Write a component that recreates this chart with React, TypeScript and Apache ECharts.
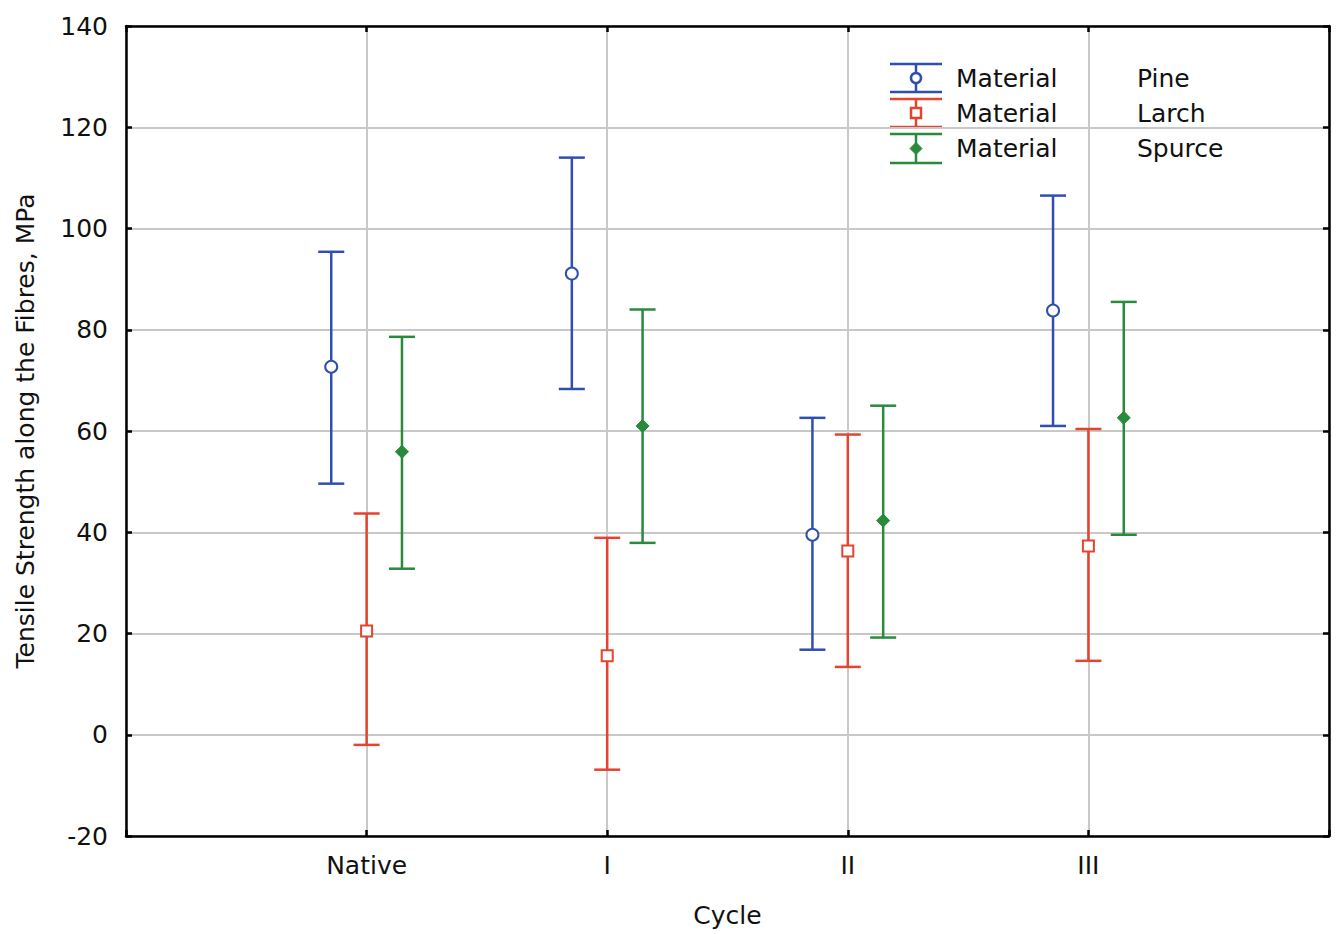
import React, { useEffect, useRef } from "react";
import * as echarts from "echarts";

const categories = ["Native", "I", "II", "III"];
const yTicks = [-20, 0, 20, 40, 60, 80, 100, 120, 140];

const pineMean = [72.7, 91.1, 39.5, 83.8];
const pineLow = [49.6, 68.3, 16.8, 61.0];
const pineHigh = [95.4, 114.0, 62.6, 106.5];

const larchMean = [20.5, 15.6, 36.3, 37.3];
const larchLow = [-2.0, -6.9, 13.4, 14.6];
const larchHigh = [43.7, 38.9, 59.3, 60.4];

const spruceMean = [55.9, 61.0, 42.3, 62.6];
const spruceLow = [32.8, 37.9, 19.2, 39.5];
const spruceHigh = [78.6, 84.0, 65.0, 85.5];

const legendLeft = ["Material", "Material", "Material"];
const legendRight = ["Pine", "Larch", "Spurce"];

const BLUE = "#2f4fae";
const RED = "#e5432f";
const GREEN = "#2a8a3c";
const FONT = "DejaVu Sans, Liberation Sans, Arial, sans-serif";

export default function App() {
  const ref = useRef<HTMLDivElement>(null);

  useEffect(() => {
    if (!ref.current) return;
    const chart = echarts.init(ref.current, undefined, { renderer: "svg" });

    const OFF = 0.147;
    const groups = [
      { name: "Pine", mean: pineMean, low: pineLow, high: pineHigh, color: BLUE, off: -OFF, symbol: "emptyCircle", size: 12 },
      { name: "Larch", mean: larchMean, low: larchLow, high: larchHigh, color: RED, off: 0, symbol: "emptyRect", size: 11 },
      { name: "Spruce", mean: spruceMean, low: spruceLow, high: spruceHigh, color: GREEN, off: OFF, symbol: "diamond", size: 13 },
    ];

    const series: any[] = [];
    groups.forEach((g) => {
      series.push({
        type: "custom",
        name: g.name + " err",
        xAxisIndex: 0,
        yAxisIndex: 0,
        data: categories.map((_, i) => [i + 1 + g.off, g.low[i], g.high[i]]),
        renderItem: (params: any, api: any) => {
          const x = api.value(0);
          const top = api.coord([x, api.value(2)]);
          const bot = api.coord([x, api.value(1)]);
          const hw = 13;
          const style = { stroke: g.color, lineWidth: 2.5 };
          return {
            type: "group",
            children: [
              { type: "line", shape: { x1: top[0], y1: top[1], x2: bot[0], y2: bot[1] }, style },
              { type: "line", shape: { x1: top[0] - hw, y1: top[1], x2: top[0] + hw, y2: top[1] }, style },
              { type: "line", shape: { x1: bot[0] - hw, y1: bot[1], x2: bot[0] + hw, y2: bot[1] }, style },
            ],
          };
        },
        z: 3,
      });
      series.push({
        type: "scatter",
        name: g.name,
        xAxisIndex: 0,
        yAxisIndex: 0,
        data: categories.map((_, i) => [i + 1 + g.off, g.mean[i]]),
        symbol: g.symbol,
        symbolSize: g.size,
        itemStyle: {
          color: g.color,
          borderColor: g.color,
          borderWidth: g.symbol === "diamond" ? 1 : 2.5,
          opacity: 1,
        },
        z: 4,
      });
    });

    // legend graphics
    const legendX = 890;
    const legendW = 52;
    const rows = [
      { top: 64, bot: 92, color: BLUE, kind: "circle" },
      { top: 99, bot: 127, color: RED, kind: "rect" },
      { top: 134, bot: 163, color: GREEN, kind: "diamond" },
    ];
    const graphics: any[] = [];
    rows.forEach((r, i) => {
      const cx = legendX + legendW / 2;
      const cy = (r.top + r.bot) / 2;
      const st = { stroke: r.color, lineWidth: 2.5 };
      graphics.push({ type: "line", shape: { x1: legendX, y1: r.top, x2: legendX + legendW, y2: r.top }, style: st });
      graphics.push({ type: "line", shape: { x1: legendX, y1: r.bot, x2: legendX + legendW, y2: r.bot }, style: st });
      graphics.push({ type: "line", shape: { x1: cx, y1: r.top, x2: cx, y2: r.bot }, style: st });
      if (r.kind === "circle") {
        graphics.push({ type: "circle", shape: { cx, cy, r: 5 }, style: { fill: "#fff", stroke: r.color, lineWidth: 2.5 } });
      } else if (r.kind === "rect") {
        graphics.push({ type: "rect", shape: { x: cx - 5, y: cy - 5, width: 10, height: 10 }, style: { fill: "#fff", stroke: r.color, lineWidth: 2.5 } });
      } else {
        graphics.push({
          type: "polygon",
          shape: { points: [[cx, cy - 6], [cx + 6, cy], [cx, cy + 6], [cx - 6, cy]] },
          style: { fill: r.color, stroke: r.color, lineWidth: 1 },
        });
      }
      graphics.push({
        type: "text",
        x: 956,
        y: cy,
        style: { text: legendLeft[i], font: `25px ${FONT}`, fill: "#111", verticalAlign: "middle" },
      });
      graphics.push({
        type: "text",
        x: 1137,
        y: cy,
        style: { text: legendRight[i], font: `25px ${FONT}`, fill: "#111", verticalAlign: "middle" },
      });
    });

    const mkLine = () => ({ show: true, onZero: false, lineStyle: { color: "#000", width: 2.5 } });
    const mkTick = () => ({ show: true, inside: true, length: 6, lineStyle: { color: "#000", width: 2.5 } });

    chart.setOption({
      animation: false,
      backgroundColor: "#fff",
      grid: { left: 126, right: 7, top: 26, bottom: 98, containLabel: false },
      xAxis: [
        {
          type: "value",
          min: 0,
          max: 5,
          interval: 1,
          position: "bottom",
          name: "Cycle",
          nameLocation: "middle",
          nameGap: 67,
          nameTextStyle: { fontFamily: FONT, fontSize: 25, color: "#111" },
          axisLine: mkLine(),
          axisTick: mkTick(),
          axisLabel: {
            fontFamily: FONT,
            fontSize: 25,
            color: "#111",
            margin: 17,
            formatter: (v: number) => (v >= 1 && v <= 4 ? categories[v - 1] : ""),
          },
          splitLine: { show: true, lineStyle: { color: "#c8c8c8", width: 2 } },
        },
        {
          type: "value",
          min: 0,
          max: 5,
          interval: 1,
          position: "top",
          axisLine: mkLine(),
          axisTick: mkTick(),
          axisLabel: { show: false },
          splitLine: { show: false },
        },
      ],
      yAxis: [
        {
          type: "value",
          min: yTicks[0],
          max: yTicks[yTicks.length - 1],
          interval: 20,
          position: "left",
          name: "Tensile Strength along the Fibres, MPa",
          nameLocation: "middle",
          nameGap: 88,
          nameTextStyle: { fontFamily: FONT, fontSize: 25, color: "#111" },
          axisLine: mkLine(),
          axisTick: mkTick(),
          axisLabel: { fontFamily: FONT, fontSize: 25, color: "#111", margin: 18 },
          splitLine: { show: true, lineStyle: { color: "#c8c8c8", width: 2 } },
        },
        {
          type: "value",
          min: yTicks[0],
          max: yTicks[yTicks.length - 1],
          interval: 20,
          position: "right",
          axisLine: mkLine(),
          axisTick: mkTick(),
          axisLabel: { show: false },
          splitLine: { show: false },
        },
      ],
      series,
      graphic: graphics,
    });

    return () => chart.dispose();
  }, []);

  return (
    <div
      ref={ref}
      style={{ position: "absolute", left: 0, top: 0, width: 1336, height: 934 }}
    />
  );
}
